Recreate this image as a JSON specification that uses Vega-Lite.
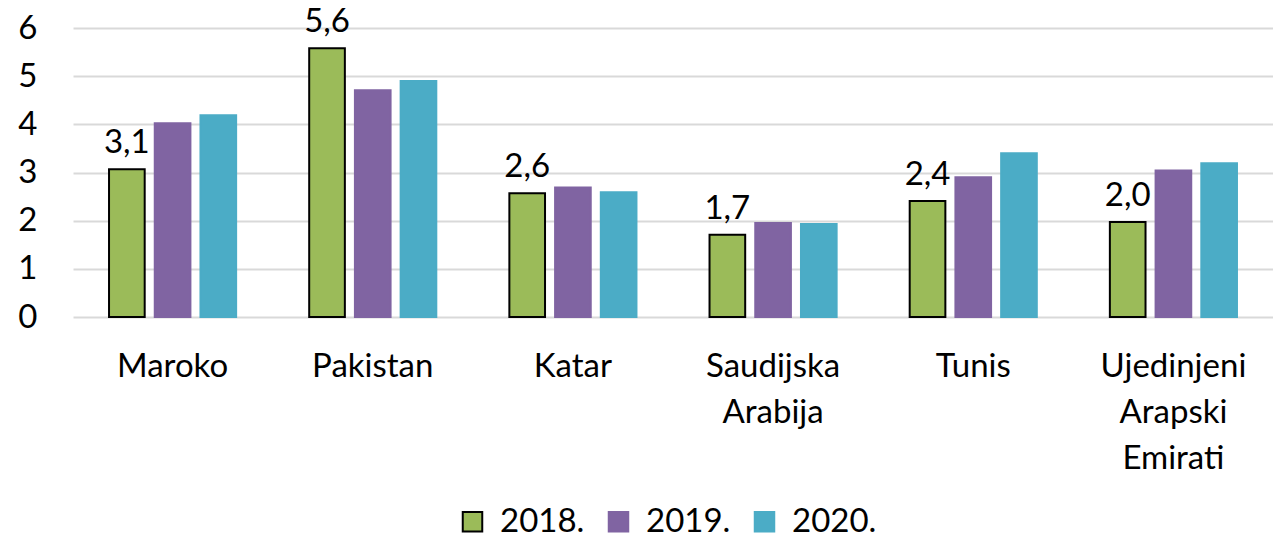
{
  "$schema": "https://vega.github.io/schema/vega-lite/v6.json",
  "width": 1200,
  "height": 289,
  "autosize": {"type": "none"},
  "padding": {"left": 73, "top": 28, "right": 0, "bottom": 224},
  "config": {
    "locale": {"number": {"decimal": ",", "thousands": ".", "grouping": [3], "currency": ["", " €"]}},
    "view": {"stroke": null},
    "font": "Lato",
    "background": "white"
  },
  "data": {
    "values": [
      {"country": "Maroko", "year": "2018", "value": 3.07},
      {"country": "Maroko", "year": "2019", "value": 4.02},
      {"country": "Maroko", "year": "2020", "value": 4.19},
      {"country": "Pakistan", "year": "2018", "value": 5.58},
      {"country": "Pakistan", "year": "2019", "value": 4.71},
      {"country": "Pakistan", "year": "2020", "value": 4.9},
      {"country": "Katar", "year": "2018", "value": 2.57},
      {"country": "Katar", "year": "2019", "value": 2.69},
      {"country": "Katar", "year": "2020", "value": 2.59},
      {"country": "Saudijska Arabija", "year": "2018", "value": 1.71},
      {"country": "Saudijska Arabija", "year": "2019", "value": 1.95},
      {"country": "Saudijska Arabija", "year": "2020", "value": 1.93},
      {"country": "Tunis", "year": "2018", "value": 2.41},
      {"country": "Tunis", "year": "2019", "value": 2.9},
      {"country": "Tunis", "year": "2020", "value": 3.4},
      {"country": "Ujedinjeni Arapski Emirati", "year": "2018", "value": 1.97},
      {"country": "Ujedinjeni Arapski Emirati", "year": "2019", "value": 3.04},
      {"country": "Ujedinjeni Arapski Emirati", "year": "2020", "value": 3.19}
    ]
  },
  "encoding": {
    "x": {
      "field": "country",
      "type": "nominal",
      "sort": null,
      "scale": {"paddingInner": 0.365, "paddingOuter": 0.18},
      "axis": {
        "title": null,
        "labelAngle": 0,
        "labelFontSize": 33,
        "labelColor": "#000000",
        "labelPadding": 33,
        "labelLineHeight": 46,
        "labelBaseline": "top",
        "labelExpr": "split(datum.label, ' ')",
        "domain": false,
        "ticks": false,
        "grid": false
      }
    },
    "xOffset": {"field": "year", "type": "nominal", "scale": {"paddingInner": 0.22, "paddingOuter": 0}},
    "y": {
      "field": "value",
      "type": "quantitative",
      "scale": {"domain": [0, 6], "nice": false},
      "axis": {
        "title": null,
        "values": [0, 1, 2, 3, 4, 5, 6],
        "labelFontSize": 33,
        "labelColor": "#000000",
        "labelPadding": 36,
        "domain": false,
        "ticks": false,
        "gridColor": "#D9D9D9",
        "gridWidth": 2
      }
    }
  },
  "layer": [
    {
      "mark": {"type": "bar", "strokeWidth": 2},
      "encoding": {
        "fill": {
          "field": "year",
          "type": "nominal",
          "scale": {"domain": ["2018", "2019", "2020"], "range": ["#9BBB59", "#8064A2", "#4BACC6"]},
          "legend": {
            "title": null,
            "orient": "none",
            "legendX": 383,
            "legendY": 477,
            "direction": "horizontal",
            "labelFontSize": 33,
            "labelColor": "#000000",
            "labelExpr": "datum.label + '.'",
            "symbolType": "square",
            "symbolSize": 380,
            "symbolStrokeWidth": 2,
            "labelOffset": 11,
            "columnPadding": 17
          }
        },
        "stroke": {
          "field": "year",
          "type": "nominal",
          "scale": {"domain": ["2018", "2019", "2020"], "range": ["#000000", "#8064A2", "#4BACC6"]},
          "legend": {
            "title": null,
            "orient": "none",
            "legendX": 383,
            "legendY": 477,
            "direction": "horizontal",
            "labelFontSize": 33,
            "labelColor": "#000000",
            "labelExpr": "datum.label + '.'",
            "symbolType": "square",
            "symbolSize": 380,
            "symbolStrokeWidth": 2,
            "labelOffset": 11,
            "columnPadding": 17
          }
        }
      }
    },
    {
      "transform": [{"filter": "datum.year == '2018'"}],
      "mark": {"type": "text", "fontSize": 33, "baseline": "alphabetic", "dy": -16, "color": "#000000"},
      "encoding": {
        "text": {"field": "value", "type": "quantitative", "format": ".1f"}
      }
    }
  ]
}
